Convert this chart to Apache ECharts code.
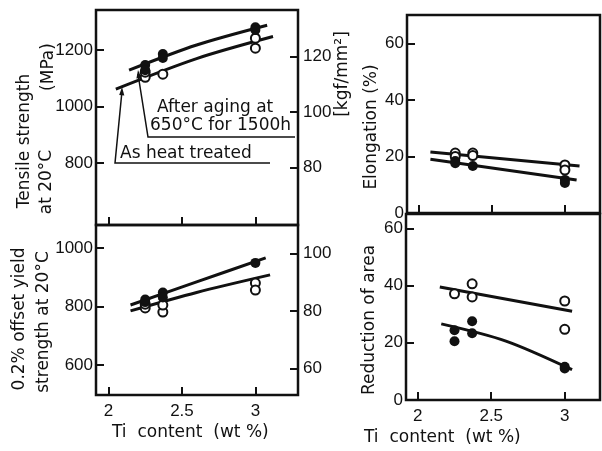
<!DOCTYPE html>
<html>
<head>
<meta charset="utf-8">
<script src="https://cdn.jsdelivr.net/npm/echarts@6/dist/echarts.min.js"></script>
<style>
  html, body { margin: 0; padding: 0; background: #fff; }
  #chart { width: 602px; height: 451px; }
</style>
</head>
<body>
<div id="chart"></div>
<script>
// Ti content ticks (wt%)
const tiTicks = [2, 2.5, 3]

// tensile strength at 20C (MPa): filled = after aging, open = as heat treated
const tsAgedPts = [[2.25, 1147], [2.25, 1129], [2.37, 1186], [2.37, 1172], [3.0, 1281], [3.0, 1271]]
const tsHeatPts = [[2.25, 1104], [2.25, 1122], [2.37, 1115], [3.0, 1242], [3.0, 1207]]
const tsAgedCurve = [[2.14, 1129], [2.6, 1218], [3.08, 1288]]
const tsHeatCurve = [[2.05, 1062], [2.6, 1170], [3.12, 1248]]
const tsTicks = [800, 1000, 1200]
const tsKgfTicks = [80, 100, 120]

// 0.2% offset yield strength (MPa)
const ysAgedPts = [[2.25, 815], [2.25, 824], [2.37, 848], [2.37, 831], [3.0, 949]]
const ysHeatPts = [[2.25, 795], [2.25, 808], [2.37, 781], [2.37, 805], [3.0, 880], [3.0, 856]]
const ysAgedCurve = [[2.15, 805], [2.6, 884], [3.07, 966]]
const ysHeatCurve = [[2.15, 785], [2.6, 848], [3.1, 908]]
const ysTicks = [600, 800, 1000]
const ysKgfTicks = [60, 80, 100]

// elongation (%)
const elHeatPts = [[2.25, 21.2], [2.25, 20], [2.37, 21.2], [2.37, 20.3], [3.0, 17], [3.0, 15.2]]
const elAgedPts = [[2.25, 18.4], [2.25, 17.6], [2.37, 16.6], [3.0, 11.7], [3.0, 10.6]]
const elHeatCurve = [[2.08, 21.6], [3.1, 16.6]]
const elAgedCurve = [[2.08, 19.0], [3.08, 11.7]]
const elTicks = [0, 20, 40, 60]

// reduction of area (%)
const raHeatPts = [[2.25, 37.1], [2.37, 40.6], [2.37, 36], [3.0, 34.6], [3.0, 24.7]]
const raAgedPts = [[2.25, 24.4], [2.25, 20.5], [2.37, 27.5], [2.37, 23.3], [3.0, 11.6], [3.0, 11]]
const raHeatCurve = [[2.15, 39.5], [3.05, 31]]
const raAgedCurve = [[2.16, 26.6], [2.6, 20.6], [3.05, 10.6]]
const raTicks = [0, 20, 40, 60]

const INK = '#111'
const KGF = 9.807
const tickFont = { color: INK, fontSize: 17, fontFamily: 'Liberation Sans', formatter: v => String(v) }
const nameFont = '17px "DejaVu Sans"'

function xAxis (grid, min, max, labels) {
  return {
    type: 'value', gridIndex: grid, min, max,
    axisLine: { show: false },
    splitLine: { show: false },
    axisTick: { show: true, inside: true, length: 8, customValues: tiTicks, lineStyle: { color: INK, width: 2 } },
    axisLabel: { show: labels, customValues: tiTicks, margin: 8, ...tickFont }
  }
}

function yAxis (grid, min, max, ticks, pos, margin) {
  return {
    type: 'value', gridIndex: grid, min, max, position: pos || 'left',
    axisLine: { show: false },
    splitLine: { show: false },
    axisTick: { show: true, inside: true, length: 8, customValues: ticks, lineStyle: { color: INK, width: 2 } },
    axisLabel: { customValues: ticks, margin: margin || 3, ...tickFont }
  }
}

function dots (x, y, data, filled) {
  return {
    type: 'scatter', xAxisIndex: x, yAxisIndex: y, data, z: 5,
    symbolSize: filled ? 10 : 9,
    itemStyle: filled
      ? { color: INK, opacity: 1 }
      : { color: '#fff', borderColor: INK, borderWidth: 2, opacity: 1 }
  }
}

function curve (x, y, data) {
  return {
    type: 'line', xAxisIndex: x, yAxisIndex: y, data, smooth: 0.3,
    symbol: 'none', lineStyle: { color: INK, width: 3 }
  }
}

function vtext (x, y, text) {
  return {
    type: 'text', x, y, rotation: Math.PI / 2,
    style: { text, font: nameFont, fill: INK, textAlign: 'center', textVerticalAlign: 'middle' }
  }
}

function htext (x, y, text) {
  return {
    type: 'text', x, y,
    style: { text, font: nameFont, fill: INK, textAlign: 'left', textVerticalAlign: 'middle' }
  }
}

const gridStyle = { show: true, borderColor: INK, borderWidth: 2.5, backgroundColor: 'transparent' }

const chart = echarts.init(document.getElementById('chart'))
chart.setOption({
  animation: false,
  backgroundColor: '#fff',
  grid: [
    { left: 96, top: 10, width: 202, height: 215, ...gridStyle },
    { left: 96, top: 225, width: 202, height: 170, ...gridStyle },
    { left: 407, top: 15, width: 193, height: 198, ...gridStyle },
    { left: 406, top: 214, width: 194, height: 186, ...gridStyle }
  ],
  xAxis: [
    xAxis(0, 1.915, 3.29, false),
    xAxis(1, 1.915, 3.29, true),
    xAxis(2, 1.92, 3.24, false),
    xAxis(3, 1.92, 3.24, true)
  ],
  yAxis: [
    yAxis(0, 581, 1342, tsTicks),
    yAxis(0, 581 / KGF, 1342 / KGF, tsKgfTicks, 'right', 5),
    yAxis(1, 497.4, 1078.6, ysTicks),
    yAxis(1, 497.4 / KGF, 1078.6 / KGF, ysKgfTicks, 'right', 5),
    yAxis(2, 0, 70, elTicks),
    yAxis(3, 0, 65, raTicks)
  ],
  series: [
    curve(0, 0, tsAgedCurve),
    curve(0, 0, tsHeatCurve),
    dots(0, 0, tsHeatPts, false),
    dots(0, 0, tsAgedPts, true),

    curve(1, 2, ysAgedCurve),
    curve(1, 2, ysHeatCurve),
    dots(1, 2, ysHeatPts, false),
    dots(1, 2, ysAgedPts, true),

    curve(2, 4, elHeatCurve),
    curve(2, 4, elAgedCurve),
    dots(2, 4, elHeatPts, false),
    dots(2, 4, elAgedPts, true),

    curve(3, 5, raHeatCurve),
    curve(3, 5, raAgedCurve),
    dots(3, 5, raHeatPts, false),
    dots(3, 5, raAgedPts, true)
  ],
  graphic: [
    vtext(25, 141, 'Tensile strength'),
    vtext(49, 67, '(MPa)'),
    vtext(47, 182, 'at 20°C'),
    vtext(343, 74, '[kgf/mm²]'),
    vtext(372, 127, 'Elongation (%)'),
    vtext(20, 319, '0.2% offset yield'),
    vtext(44, 322, 'strength at 20°C'),
    vtext(370, 320, 'Reduction of area'),
    htext(112, 433, 'Ti  content  (wt %)'),
    htext(364, 438, 'Ti  content  (wt %)'),

    // annotation for the two curves
    htext(157, 108, 'After aging at'),
    htext(150, 126, '650°C for 1500h'),
    { type: 'polyline', shape: { points: [[295, 137], [148, 137], [138, 74]] }, style: { stroke: INK, lineWidth: 1.5, fill: null } },
    { type: 'polygon', shape: { points: [[138, 70], [141.6, 78], [136.4, 78.6]] }, style: { fill: INK } },
    htext(120, 154, 'As heat treated'),
    { type: 'polyline', shape: { points: [[270, 163], [115, 163], [122, 91]] }, style: { stroke: INK, lineWidth: 1.5, fill: null } },
    { type: 'polygon', shape: { points: [[122, 87], [124.3, 95.5], [119.2, 95]] }, style: { fill: INK } }
  ]
})
</script>
</body>
</html>
